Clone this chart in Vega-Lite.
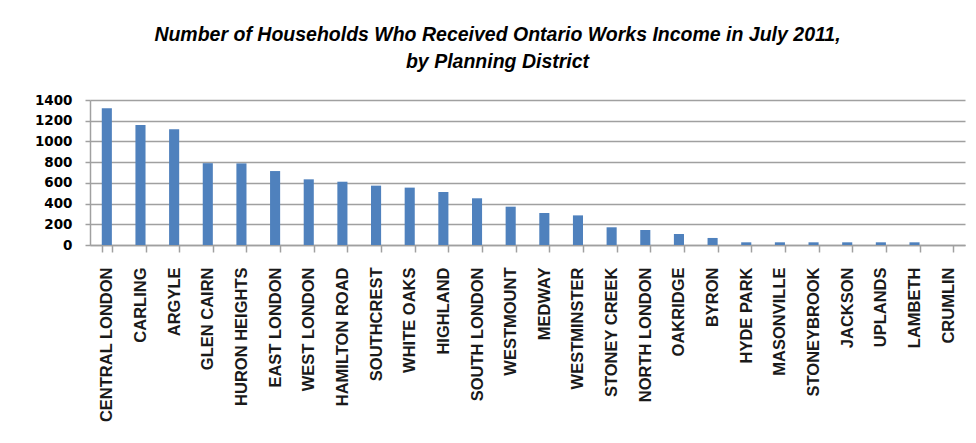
{
  "$schema": "https://vega.github.io/schema/vega-lite/v6.json",
  "width": 875,
  "height": 145,
  "autosize": "none",
  "padding": {"left": 90, "top": 100, "right": 11, "bottom": 198},
  "background": "white",
  "title": {
    "text": ["Number of Households Who Received Ontario Works Income in July 2011,", "by Planning District"],
    "font": "Liberation Sans",
    "fontSize": 19.5,
    "fontStyle": "italic",
    "fontWeight": "bold",
    "lineHeight": 27,
    "anchor": "middle",
    "dx": -30,
    "offset": 21,
    "color": "black"
  },
  "data": {
    "values": [
      {"district": "CENTRAL LONDON", "households": 1320},
      {"district": "CARLING", "households": 1159},
      {"district": "ARGYLE", "households": 1117},
      {"district": "GLEN CAIRN", "households": 790},
      {"district": "HURON HEIGHTS", "households": 788},
      {"district": "EAST LONDON", "households": 714},
      {"district": "WEST LONDON", "households": 634},
      {"district": "HAMILTON ROAD", "households": 611},
      {"district": "SOUTHCREST", "households": 573},
      {"district": "WHITE OAKS", "households": 554},
      {"district": "HIGHLAND", "households": 512},
      {"district": "SOUTH LONDON", "households": 451},
      {"district": "WESTMOUNT", "households": 370},
      {"district": "MEDWAY", "households": 309},
      {"district": "WESTMINSTER", "households": 286},
      {"district": "STONEY CREEK", "households": 171},
      {"district": "NORTH LONDON", "households": 145},
      {"district": "OAKRIDGE", "households": 106},
      {"district": "BYRON", "households": 68},
      {"district": "HYDE PARK", "households": 26},
      {"district": "MASONVILLE", "households": 26},
      {"district": "STONEYBROOK", "households": 26},
      {"district": "JACKSON", "households": 26},
      {"district": "UPLANDS", "households": 26},
      {"district": "LAMBETH", "households": 26},
      {"district": "CRUMLIN", "households": 0}
    ]
  },
  "mark": {"type": "bar", "color": "#4f81bd"},
  "encoding": {
    "x": {
      "field": "district",
      "type": "nominal",
      "sort": null,
      "scale": {"paddingInner": 0.7, "paddingOuter": 0.35},
      "axis": {
        "title": null,
        "labelAngle": -90,
        "labelFont": "Liberation Sans",
        "labelFontSize": 16.5,
        "labelFontWeight": "bold",
        "labelColor": "#1a1a1a",
        "labelPadding": 15,
        "labelLimit": 300,
        "tickBand": "extent",
        "tickSize": 7,
        "tickColor": "#a0a0a0",
        "tickWidth": 1.5,
        "domainColor": "#a0a0a0",
        "domainWidth": 1.5
      }
    },
    "y": {
      "field": "households",
      "type": "quantitative",
      "scale": {"domain": [0, 1400]},
      "axis": {
        "title": null,
        "format": "d",
        "values": [0, 200, 400, 600, 800, 1000, 1200, 1400],
        "labelFont": "DejaVu Sans",
        "labelFontWeight": "bold",
        "labelFontSize": 13.5,
        "labelColor": "black",
        "labelPadding": 13,
        "tickSize": 5,
        "tickColor": "#a0a0a0",
        "tickWidth": 1.5,
        "domainColor": "#a0a0a0",
        "domainWidth": 1.5,
        "gridColor": "#a0a0a0",
        "gridWidth": 1.5
      }
    }
  },
  "config": {"view": {"stroke": null}}
}
